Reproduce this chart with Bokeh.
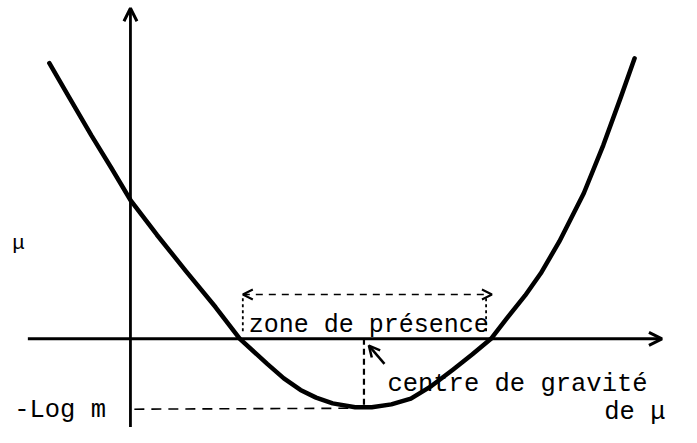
from bokeh.plotting import figure
from bokeh.models import Range1d, Arrow, OpenHead
from bokeh.core.properties import value
from bokeh.embed import file_html
from bokeh.resources import INLINE

# Curve (origin at the axes' crossing)
curve_x = [-83, -63, -40, -20, 0, 27, 57, 87, 112, 140, 157, 174, 190, 207,
           230, 247, 267, 287, 308, 330, 350, 369, 385, 404, 420, 439, 464, 484, 502, 516]
curve_y = [286, 251, 211, 178, 144, 108, 70, 33, 0, -26, -41, -53, -61, -67,
           -71, -71, -68, -62, -49, -32, -16, 0, 21, 45, 68, 101, 151, 201, 251, 291]

zone = [115, 370]          # zone de présence (roots of the curve)
centre_x = 239             # centre de gravité
log_m = -73                # -Log m level

FONT = "Liberation Mono"

p = figure(width=681, height=427, x_range=Range1d(-133, 564), y_range=Range1d(-92, 351),
           output_backend="svg", toolbar_location=None, min_border=0)
p.axis.visible = False
p.grid.visible = False
p.outline_line_color = None
p.background_fill_color = "white"
p.border_fill_color = "white"

# axes with arrows
p.add_layout(Arrow(end=OpenHead(size=13, line_width=3, line_color="black"),
                   x_start=0, y_start=-100, x_end=0, y_end=343,
                   line_width=2.8, line_color="black"))
p.add_layout(Arrow(end=OpenHead(size=13, line_width=3, line_color="black"),
                   x_start=-105, y_start=0, x_end=544, y_end=0,
                   line_width=3, line_color="black"))

# curve
p.line(curve_x, curve_y, line_width=4.5, line_color="black", line_cap="round", line_join="round")

# -Log m dashed line
p.line([4, centre_x - 9], [log_m, log_m + 1], line_width=1.6, line_color="black", line_dash="10 7")

# centre de gravité dashed vertical and arrow
p.line([centre_x, centre_x], [0, log_m + 4], line_width=2.2, line_color="black", line_dash="6 4")
p.add_layout(Arrow(end=OpenHead(size=11, line_width=2.5, line_color="black"),
                   x_start=centre_x + 21, y_start=-26, x_end=centre_x + 5, y_end=-7,
                   line_width=2.5, line_color="black"))

# zone de présence double arrow and dotted ends
zone_y = 46
p.add_layout(Arrow(start=OpenHead(size=10, line_width=2, line_color="black"),
                   end=OpenHead(size=10, line_width=2, line_color="black"),
                   x_start=zone[0], y_start=zone_y, x_end=zone[1], y_end=zone_y,
                   line_width=1.5, line_color="black", line_dash="7 6"))
p.line([zone[0], zone[0]], [zone_y - 4, 6], line_width=1.8, line_color="black", line_dash="3 3")
p.line([zone[1] - 6, zone[1] - 6], [zone_y - 4, 6], line_width=1.8, line_color="black", line_dash="3 3")

# texts
p.text(x=[121], y=[14], text=["zone de présence"], text_font=value(FONT),
       text_font_size=value("25px"), text_color="black", text_baseline="alphabetic")
p.text(x=[263, 485], y=[-47, -76], text=["centre de gravité", "de μ"], text_font=value(FONT),
       text_font_size=value("25.5px"), text_color="black", text_baseline="alphabetic")
p.text(x=[-119], y=[-74], text=["-Log m"], text_font=value(FONT),
       text_font_size=value("25.5px"), text_color="black", text_baseline="alphabetic")
p.text(x=[-121], y=[99], text=["μ"], text_font=value(FONT),
       text_font_size=value("21px"), text_color="black", text_baseline="alphabetic")

open("out.html", "w").write(file_html(p, INLINE))
